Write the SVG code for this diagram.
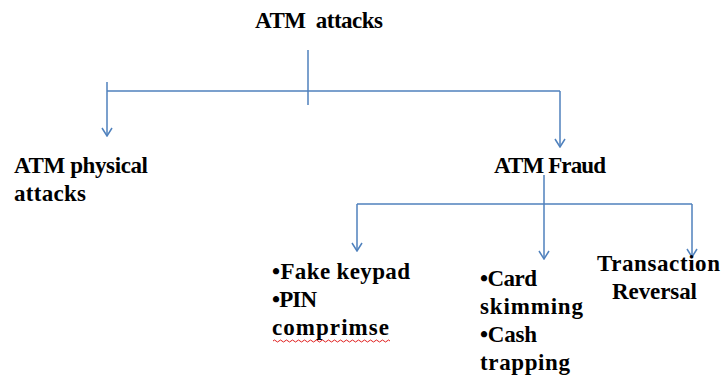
<svg xmlns="http://www.w3.org/2000/svg" width="721" height="378" viewBox="0 0 721 378">
<defs>
<marker id="ah" viewBox="0 0 10 12" refX="9" refY="6" markerWidth="10" markerHeight="12" markerUnits="userSpaceOnUse" orient="auto">
<path d="M1,1 L9,6 L1,11" fill="none" stroke="#4f81bd" stroke-width="1.5"/>
</marker>
<style>
.t{font-family:"Liberation Serif","Times New Roman",serif;font-weight:bold;font-size:23px;fill:#000;white-space:pre}
.c{fill:none;stroke:#4f81bd;stroke-width:1.5}
.a{marker-end:url(#ah)}
</style>
</defs>
<rect width="721" height="378" fill="#fff"/>
<g id="connectors">
<path class="c" d="M308,50 V105"/>
<path class="c" d="M107,91 H560"/>
<path class="c" d="M107,82 V91"/>
<path class="c a" d="M107,91 V136"/>
<path class="c a" d="M560,91 V147"/>
<path class="c a" d="M544,175 V259"/>
<path class="c" d="M357,204 H692"/>
<path class="c a" d="M357,204 V251"/>
<path class="c a" d="M692,204 V257"/>
</g>
<g id="root"><text class="t" x="255" y="28" textLength="128" xml:space="preserve">ATM  attacks</text></g>
<g id="physical"><text class="t" x="14" y="173" textLength="134">ATM physical</text><text class="t" x="14" y="201" textLength="72">attacks</text></g>
<g id="fraud"><text class="t" x="494" y="173" textLength="112">ATM Fraud</text></g>
<g id="keypad"><text class="t" x="272" y="279" textLength="138">•Fake keypad</text><text class="t" x="272" y="307" textLength="45">•PIN</text><text class="t" x="272" y="335" textLength="117">comprimse</text>
<path d="M273,341 q1.5,-2 3,0 t3,0 t3,0 t3,0 t3,0 t3,0 t3,0 t3,0 t3,0 t3,0 t3,0 t3,0 t3,0 t3,0 t3,0 t3,0 t3,0 t3,0 t3,0 t3,0 t3,0 t3,0 t3,0 t3,0 t3,0 t3,0 t3,0 t3,0 t3,0 t3,0 t3,0 t3,0 t3,0 t3,0 t3,0 t3,0 t3,0 t3,0 t3,0" fill="none" stroke="#e02020" stroke-width="1"/></g>
<g id="skimming"><text class="t" x="480" y="286" textLength="57">•Card</text><text class="t" x="480" y="314" textLength="103">skimming</text><text class="t" x="480" y="342" textLength="57">•Cash</text><text class="t" x="480" y="370" textLength="90">trapping</text></g>
<g id="reversal"><text class="t" x="597" y="271" textLength="123">Transaction</text><text class="t" x="612" y="299" textLength="85">Reversal</text></g>
</svg>
